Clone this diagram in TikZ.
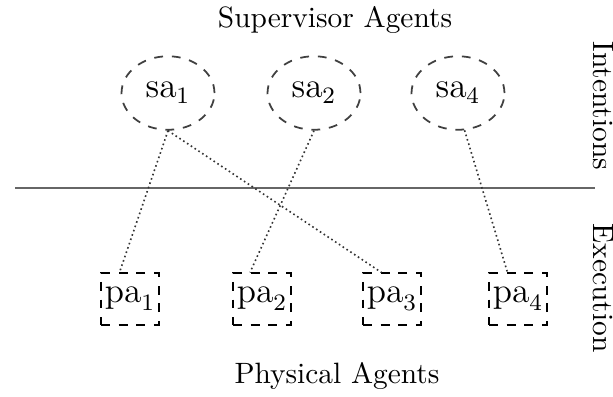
\documentclass[tikz,border=0pt]{standalone}
\usepackage{amsmath}
\tikzset{supv/.style = {draw = black!75, dashed, line width = 0.6pt, ellipse, minimum width = 31.6pt, minimum height = 25pt, inner sep = 0, font = \fontsize{11.5}{13}\selectfont}}
\tikzset{phys/.style = {draw, dashed, line width = 0.45pt, rectangle, minimum width = 19.7pt, minimum height = 17.6pt, inner sep = 0.5pt, font = \fontsize{11.5}{13}\selectfont}}
\tikzset{link/.style = {densely dotted, line width = 0.55pt, black!80}}
\usetikzlibrary{shapes.geometric}

\begin{document}
\begin{tikzpicture}[x = 0.34pt, y = -0.34pt]
    \useasboundingbox (0,0) rectangle (613,396);
    \node [anchor = base] (supervisors) at (335, 27) {Supervisor Agents};
    \node [anchor = base] (physicals) at (337, 383) {Physical Agents};
    \node [rotate = -90] (intentions) at (603, 106) {Intentions};
    \node [rotate = -90] (execution) at (603, 288) {Execution};
    \draw [black!60, line width = 0.5pt] (15, 188) -- (595, 188);

    \node [supv] (sa1) at (168, 93) {$\mathrm{sa}_1$};
    \node [supv] (sa2) at (314, 93) {$\mathrm{sa}_2$};
    \node [supv] (sa4) at (458, 93) {$\mathrm{sa}_4$};

    \node [phys] (pa1) at (130, 299) {$\mathrm{pa}_1$};
    \node [phys] (pa2) at (262, 299) {$\mathrm{pa}_2$};
    \node [phys] (pa3) at (392, 299) {$\mathrm{pa}_3$};
    \node [phys] (pa4) at (518, 299) {$\mathrm{pa}_4$};

    \draw [link] (sa1.south) -- ([xshift = 6.5pt] pa1.north west);
    \draw [link] (sa1.south) -- ([xshift = 6.5pt] pa3.north west);
    \draw [link] (sa2.south) -- ([xshift = 6pt] pa2.north west);
    \draw [link] (sa4.-80) -- ([xshift = 6.5pt] pa4.north west);
  \end{tikzpicture}
\end{document}
